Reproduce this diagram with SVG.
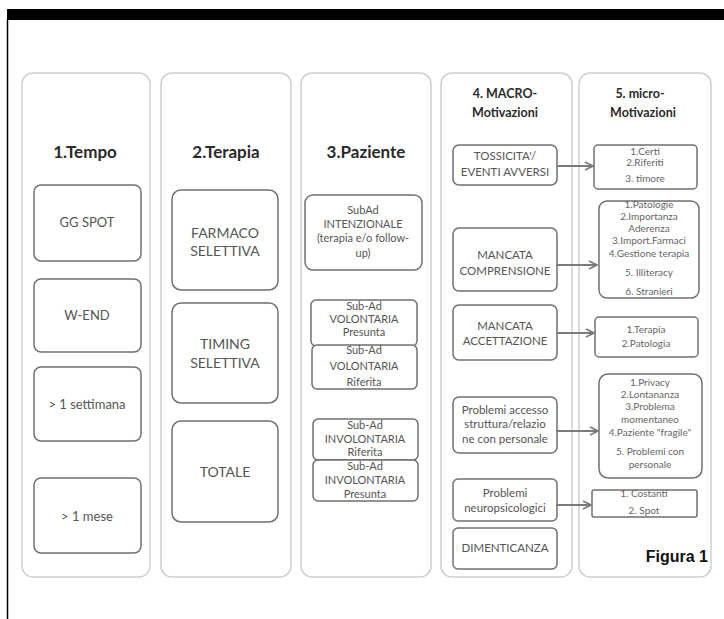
<svg xmlns="http://www.w3.org/2000/svg" width="724" height="619" viewBox="0 0 724 619">
<style>
.panel{fill:#fff;stroke:#cfcfcf;stroke-width:1.5}
.box{fill:#fff;stroke:#707070;stroke-width:1.5}
.hd{font-family:Lato,"Liberation Sans",sans-serif;font-weight:bold;fill:#2a2a2a;text-anchor:middle}
.t{font-family:Lato,"Liberation Sans",sans-serif;fill:#555;text-anchor:middle}
.s{font-family:Lato,"Liberation Sans",sans-serif;fill:#666;text-anchor:middle;font-size:10px}
.conn{stroke:#7a7a7a;stroke-width:2;fill:none}
</style>
<defs>
<marker id="ah" viewBox="0 0 10 10" refX="9" refY="5" markerWidth="5" markerHeight="5" orient="auto" markerUnits="strokeWidth">
<path d="M1,1 L9,5 L1,9" fill="none" stroke="#7a7a7a" stroke-width="1.6"/>
</marker>
</defs>
<rect x="0" y="0" width="724" height="619" fill="#fff"/>
<rect x="7" y="9" width="717" height="11" fill="#000"/>
<line x1="7.5" y1="19" x2="7.5" y2="619" stroke="#000" stroke-width="1.5"/>

<g id="col1">
<rect class="panel" x="22" y="73" width="128" height="504" rx="11"/>
<text class="hd" x="85" y="158" font-size="17">1.Tempo</text>
</g>
<g id="col2">
<rect class="panel" x="161" y="73" width="130" height="504" rx="11"/>
<text class="hd" x="226" y="158" font-size="17">2.Terapia</text>
</g>
<g id="col3">
<rect class="panel" x="301" y="73" width="130" height="504" rx="11"/>
<text class="hd" x="366" y="158" font-size="17">3.Paziente</text>
</g>
<g id="col4">
<rect class="panel" x="441" y="73" width="131" height="504" rx="11"/>
<text class="hd" x="505" y="98" font-size="12.5">4. MACRO-</text>
<text class="hd" x="505" y="117" font-size="12.5">Motivazioni</text>
</g>
<g id="col5">
<rect class="panel" x="579" y="73" width="132" height="504" rx="11"/>
<text class="hd" x="640" y="98" font-size="12.5">5.  micro-</text>
<text class="hd" x="643" y="117" font-size="12.5">Motivazioni</text>
<text x="708" y="562" font-family="'Liberation Sans',Arial,sans-serif" font-weight="bold" font-size="16" fill="#111" text-anchor="end">Figura 1</text>
</g>

<g id="gg-spot"><rect class="box" x="34" y="185" width="107" height="76" rx="7"/><text class="t" x="87" y="227" font-size="13">GG SPOT</text></g>
<g id="w-end"><rect class="box" x="34" y="279" width="107" height="73" rx="7"/><text class="t" x="87" y="320" font-size="13">W-END</text></g>
<g id="settimana"><rect class="box" x="34" y="367" width="107" height="74" rx="7"/><text class="t" x="87" y="409" font-size="13">&gt; 1 settimana</text></g>
<g id="mese"><rect class="box" x="34" y="478" width="107" height="75" rx="7"/><text class="t" x="87" y="521" font-size="13">&gt; 1 mese</text></g>

<g id="farmaco"><rect class="box" x="172" y="190" width="106" height="100" rx="9"/><text class="t" x="225" y="238" font-size="14" fill="#444">FARMACO</text><text class="t" x="225" y="256" font-size="14" fill="#444">SELETTIVA</text></g>
<g id="timing"><rect class="box" x="172" y="303" width="106" height="100" rx="9"/><text class="t" x="225" y="349" font-size="14" fill="#444">TIMING</text><text class="t" x="225" y="368" font-size="14" fill="#444">SELETTIVA</text></g>
<g id="totale"><rect class="box" x="172" y="421" width="106" height="101" rx="9"/><text class="t" x="225" y="477" font-size="14" fill="#444">TOTALE</text></g>

<g id="intenzionale"><rect class="box" x="305" y="195" width="117" height="75" rx="8"/>
<text class="t" x="363" y="214" font-size="11">SubAd</text>
<text class="t" x="363" y="228" font-size="11">INTENZIONALE</text>
<text class="t" x="363" y="242" font-size="11">(terapia e/o follow-</text>
<text class="t" x="363" y="257" font-size="11">up)</text></g>
<g id="vol-presunta"><rect class="box" x="311" y="300" width="106" height="46" rx="5"/>
<text class="t" x="364" y="310" font-size="11">Sub-Ad</text>
<text class="t" x="364" y="323" font-size="11">VOLONTARIA</text>
<text class="t" x="364" y="336" font-size="11">Presunta</text></g>
<g id="vol-riferita"><rect class="box" x="312" y="345" width="105" height="44" rx="5"/>
<text class="t" x="364" y="354" font-size="11">Sub-Ad</text>
<text class="t" x="364" y="370" font-size="11">VOLONTARIA</text>
<text class="t" x="364" y="386" font-size="11">Riferita</text></g>
<g id="invol-riferita"><rect class="box" x="313" y="419" width="105" height="41" rx="5"/>
<text class="t" x="365" y="429" font-size="11">Sub-Ad</text>
<text class="t" x="365" y="443" font-size="11">INVOLONTARIA</text>
<text class="t" x="365" y="456" font-size="11">Riferita</text></g>
<g id="invol-presunta"><rect class="box" x="313" y="460" width="105" height="41" rx="5"/>
<text class="t" x="365" y="470" font-size="11">Sub-Ad</text>
<text class="t" x="365" y="484" font-size="11">INVOLONTARIA</text>
<text class="t" x="365" y="498" font-size="11">Presunta</text></g>

<g id="tossicita"><rect class="box" x="453" y="145" width="104" height="40" rx="6"/>
<text class="t" x="505" y="160" font-size="11.5">TOSSICITA'/</text>
<text class="t" x="505" y="176" font-size="11.5">EVENTI AVVERSI</text></g>
<g id="comprensione"><rect class="box" x="453" y="228" width="104" height="63" rx="6"/>
<text class="t" x="505" y="259" font-size="11.5">MANCATA</text>
<text class="t" x="505" y="275" font-size="11.5">COMPRENSIONE</text></g>
<g id="accettazione"><rect class="box" x="453" y="305" width="104" height="55" rx="6"/>
<text class="t" x="505" y="330" font-size="11.5">MANCATA</text>
<text class="t" x="505" y="345" font-size="11.5">ACCETTAZIONE</text></g>
<g id="accesso"><rect class="box" x="453" y="397" width="104" height="56" rx="6"/>
<text class="t" x="505" y="414" font-size="11.5">Problemi accesso</text>
<text class="t" x="505" y="428" font-size="11.5">struttura/relazio</text>
<text class="t" x="505" y="443" font-size="11.5">ne con personale</text></g>
<g id="neuro"><rect class="box" x="453" y="479" width="104" height="42" rx="5"/>
<text class="t" x="505" y="497" font-size="11.5">Problemi</text>
<text class="t" x="505" y="512" font-size="11.5">neuropsicologici</text></g>
<g id="dimenticanza"><rect class="box" x="453" y="528" width="104" height="41" rx="5"/>
<text class="t" x="505" y="552" font-size="11.5">DIMENTICANZA</text></g>

<g id="m-tossicita"><rect class="box" x="594" y="145" width="103" height="44" rx="4"/>
<text class="s" x="645" y="155">1.Certi</text>
<text class="s" x="645" y="166">2.Riferiti</text>
<text class="s" x="645" y="182">3. timore</text></g>
<g id="m-comprensione"><rect class="box" x="599" y="201" width="100" height="97" rx="8"/>
<text class="s" x="649" y="208">1.Patologie</text>
<text class="s" x="649" y="220">2.Importanza</text>
<text class="s" x="649" y="232">Aderenza</text>
<text class="s" x="649" y="244">3.Import.Farmaci</text>
<text class="s" x="649" y="257">4.Gestione terapia</text>
<text class="s" x="649" y="276">5. Illiteracy</text>
<text class="s" x="649" y="295">6. Stranieri</text></g>
<g id="m-accettazione"><rect class="box" x="595" y="317" width="103" height="40" rx="4"/>
<text class="s" x="646" y="333">1.Terapia</text>
<text class="s" x="646" y="347">2.Patologia</text></g>
<g id="m-accesso"><rect class="box" x="599" y="374" width="103" height="104" rx="9"/>
<text class="s" x="650" y="386">1.Privacy</text>
<text class="s" x="650" y="398">2.Lontananza</text>
<text class="s" x="650" y="410">3.Problema</text>
<text class="s" x="650" y="423">momentaneo</text>
<text class="s" x="650" y="436">4.Paziente "fragile"</text>
<text class="s" x="650" y="455">5. Problemi con</text>
<text class="s" x="650" y="468">personale</text></g>
<g id="m-neuro"><rect class="box" x="592" y="490" width="105" height="27" rx="2"/>
<text class="s" x="644" y="497">1. Costanti</text>
<text class="s" x="644" y="514">2. Spot</text></g>

<g id="connectors">
<line class="conn" x1="557" y1="166" x2="593" y2="166" marker-end="url(#ah)"/>
<line class="conn" x1="557" y1="265" x2="597" y2="265" marker-end="url(#ah)"/>
<line class="conn" x1="557" y1="333" x2="594" y2="333" marker-end="url(#ah)"/>
<line class="conn" x1="557" y1="431" x2="598" y2="431" marker-end="url(#ah)"/>
<line class="conn" x1="557" y1="505" x2="591" y2="505" marker-end="url(#ah)"/>
</g>
</svg>
